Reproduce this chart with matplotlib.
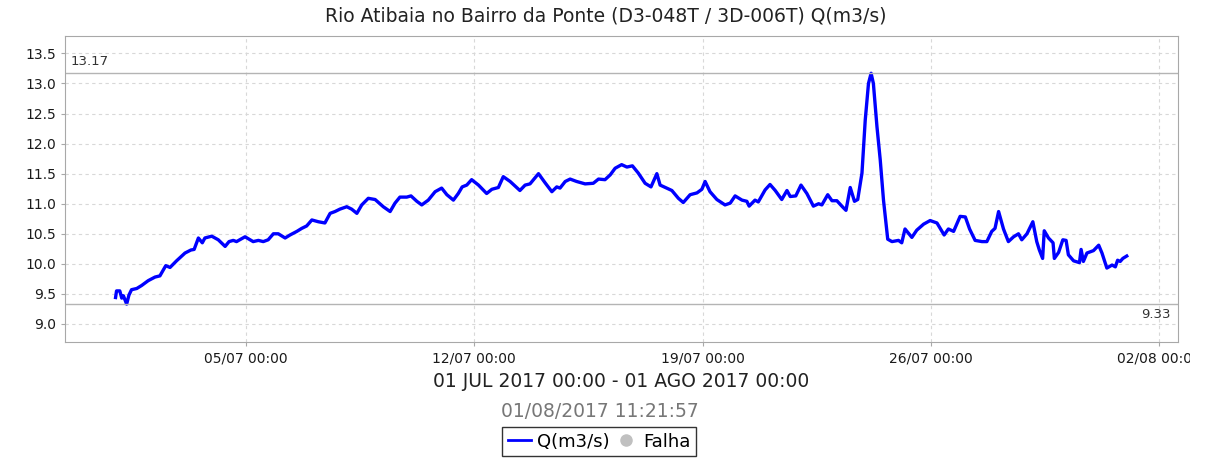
import pandas as pd
import matplotlib
matplotlib.use('Agg')
import matplotlib.pyplot as plt
import matplotlib.dates as mdates
from matplotlib.lines import Line2D
from matplotlib.transforms import Bbox

# vazão: dias desde 01/07/2017 00:00 e Q (m3/s)
dias = [0.00, 0.03, 0.13, 0.19, 0.24, 0.34, 0.41, 0.49, 0.65, 0.80, 1.00, 1.21, 1.36, 1.54, 1.67,
        1.87, 2.13, 2.31, 2.41, 2.54, 2.66, 2.74, 2.95, 3.15, 3.36, 3.48, 3.61, 3.71, 3.97, 4.22,
        4.38, 4.53, 4.68, 4.84, 4.99, 5.20, 5.35, 5.56, 5.71, 5.86, 6.02, 6.22, 6.42, 6.58, 6.73,
        6.88, 7.09, 7.24, 7.40, 7.55, 7.75, 7.96, 8.21, 8.42, 8.57, 8.72, 8.93, 9.06, 9.24, 9.39,
        9.59, 9.80, 10.00, 10.16, 10.36, 10.51, 10.63, 10.77, 10.92, 11.13, 11.38, 11.54, 11.74,
        11.89, 12.10, 12.40, 12.56, 12.71, 12.97, 13.17, 13.38, 13.53, 13.63, 13.79, 13.94, 14.14,
        14.40, 14.65, 14.81, 15.01, 15.17, 15.32, 15.52, 15.68, 15.85, 16.03, 16.24, 16.42, 16.60,
        16.70, 16.90, 17.06, 17.26, 17.41, 17.62, 17.83, 17.98, 18.08, 18.23, 18.44, 18.69, 18.85,
        19.00, 19.21, 19.36, 19.43, 19.61, 19.71, 19.92, 20.07, 20.23, 20.43, 20.59, 20.69, 20.86,
        21.02, 21.20, 21.40, 21.56, 21.66, 21.84, 21.97, 22.12, 22.29, 22.40, 22.53, 22.66, 22.76,
        22.89, 22.99, 23.09, 23.17, 23.24, 23.35, 23.45, 23.55, 23.68, 23.81, 24.01, 24.11, 24.21,
        24.42, 24.57, 24.78, 24.98, 25.19, 25.41, 25.54, 25.70, 25.90, 26.06, 26.19, 26.36, 26.57,
        26.72, 26.87, 26.97, 27.08, 27.23, 27.38, 27.54, 27.69, 27.79, 27.95, 28.13, 28.25, 28.33,
        28.43, 28.48, 28.61, 28.75, 28.79, 28.92, 29.05, 29.15, 29.22, 29.38, 29.56, 29.61, 29.68,
        29.79, 29.99, 30.15, 30.25, 30.40, 30.56, 30.66, 30.73, 30.81, 30.89, 31.01]
vazao = [9.44, 9.55, 9.55, 9.43, 9.47, 9.33, 9.48, 9.57, 9.59, 9.64, 9.72, 9.78, 9.80, 9.97, 9.94,
         10.05, 10.18, 10.23, 10.24, 10.43, 10.35, 10.43, 10.46, 10.40, 10.29, 10.37, 10.39, 10.37,
         10.45, 10.37, 10.39, 10.37, 10.40, 10.50, 10.50, 10.43, 10.48, 10.54, 10.59, 10.63, 10.73,
         10.70, 10.68, 10.84, 10.87, 10.91, 10.95, 10.91, 10.84, 10.98, 11.09, 11.07, 10.95, 10.87,
         11.01, 11.11, 11.11, 11.13, 11.04, 10.98, 11.06, 11.20, 11.26, 11.15, 11.06, 11.17, 11.28,
         11.31, 11.40, 11.31, 11.17, 11.24, 11.27, 11.45, 11.37, 11.22, 11.31, 11.33, 11.50, 11.35,
         11.20, 11.28, 11.26, 11.37, 11.41, 11.37, 11.33, 11.34, 11.41, 11.40, 11.48, 11.59, 11.65,
         11.61, 11.63, 11.51, 11.34, 11.28, 11.50, 11.31, 11.26, 11.22, 11.09, 11.02, 11.15, 11.18,
         11.24, 11.37, 11.20, 11.07, 10.98, 11.01, 11.13, 11.06, 11.04, 10.96, 11.06, 11.03, 11.23,
         11.32, 11.22, 11.07, 11.22, 11.12, 11.13, 11.31, 11.17, 10.96, 11.00, 10.98, 11.15, 11.05,
         11.05, 10.95, 10.89, 11.27, 11.04, 11.07, 11.51, 12.39, 13.00, 13.17, 13.00, 12.28, 11.73,
         11.06, 10.41, 10.37, 10.39, 10.35, 10.58, 10.44, 10.56, 10.66, 10.72, 10.68, 10.48, 10.58,
         10.54, 10.79, 10.78, 10.58, 10.39, 10.37, 10.37, 10.54, 10.59, 10.87, 10.58, 10.37, 10.45,
         10.50, 10.40, 10.50, 10.70, 10.37, 10.23, 10.09, 10.55, 10.43, 10.35, 10.09, 10.19, 10.40,
         10.39, 10.15, 10.05, 10.02, 10.24, 10.04, 10.18, 10.22, 10.31, 10.18, 9.93, 9.98, 9.95,
         10.06, 10.04, 10.09, 10.13]

inicio = pd.Timestamp('2017-07-01')
tempo = inicio + pd.to_timedelta(dias, unit='D')
ticks_x = pd.to_datetime(['2017-07-05', '2017-07-12', '2017-07-19', '2017-07-26', '2017-08-02'])
q_max = max(vazao)
q_min = min(vazao)

fig = plt.figure(figsize=(12.13, 4.59), dpi=100)
ax = fig.add_axes([0.0536, 0.2549, 0.9175, 0.6667])

ax.plot(tempo, vazao, color='#0000ff', lw=2.4, solid_joinstyle='round')
ax.axhline(q_max, color='#b4b4b4', lw=1.0)
ax.axhline(q_min, color='#b4b4b4', lw=1.0)
ax.text(0.005, q_max + 0.09, '%.2f' % q_max, transform=ax.get_yaxis_transform(),
        fontsize=9.5, color='#333333', va='bottom', ha='left')
ax.text(0.993, q_min - 0.07, '%.2f' % q_min, transform=ax.get_yaxis_transform(),
        fontsize=9.5, color='#333333', va='top', ha='right')

ax.set_xlim(inicio - pd.Timedelta(days=1.55), inicio + pd.Timedelta(days=32.58))
ax.set_ylim(8.70, 13.79)
ax.set_yticks([9.0, 9.5, 10.0, 10.5, 11.0, 11.5, 12.0, 12.5, 13.0, 13.5])
ax.yaxis.set_major_formatter(plt.FormatStrFormatter('%.1f'))
ax.set_xticks(ticks_x)
ax.xaxis.set_major_formatter(mdates.DateFormatter('%d/%m %H:%M'))

ax.grid(True, color='#d8d8d8', linestyle=(0, (3, 3)), lw=0.8)
for s in ax.spines.values():
    s.set_color('#a8a8a8')
ax.tick_params(axis='both', colors='#a8a8a8', length=3, labelcolor='#1a1a1a', labelsize=10)

# título centrado na figura, não no eixo
fig.suptitle('Rio Atibaia no Bairro da Ponte (D3-048T / 3D-006T) Q(m3/s)',
             x=0.4995, y=0.985, va='top', fontsize=13.5, color='#222222')
ax.set_xlabel('01 JUL 2017 00:00 - 01 AGO 2017 00:00', fontsize=13.5, color='#222222', labelpad=5)
fig.text(0.4945, 0.103, '01/08/2017 11:21:57', fontsize=13.5, color='#777777', ha='center', va='center')

handles = [Line2D([], [], color='#0000ff', lw=2),
           Line2D([], [], color='#c0c0c0', marker='o', ls='none', markersize=8)]
leg = fig.legend(handles, ['Q(m3/s)', 'Falha'], loc='center', bbox_to_anchor=(0.494, 0.0375),
                 ncol=2, fontsize=13, frameon=True, fancybox=False, handlelength=1.3,
                 handletextpad=0.3, columnspacing=0.3, borderpad=0.3, borderaxespad=0)
leg.get_frame().set_edgecolor('black')
leg.get_frame().set_linewidth(1.0)

# o rótulo da última data fica cortado na borda, como no original
ultimo = ax.get_xticklabels()[-1]
ultimo.set_clip_box(Bbox([[0, 0], [1190, 459]]))
ultimo.set_clip_on(True)

plt.savefig('out.png', dpi=100)
